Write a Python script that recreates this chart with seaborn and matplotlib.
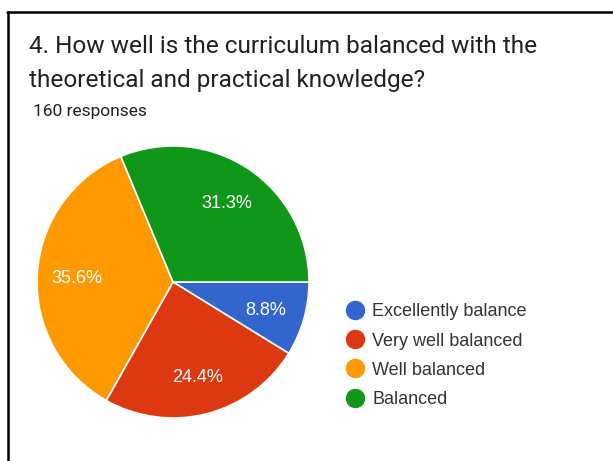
import matplotlib
matplotlib.use("Agg")
import matplotlib.pyplot as plt
from matplotlib.lines import Line2D
import numpy as np
import seaborn as sns

# Survey results (share of 160 responses, in percent)
categories = ["Excellently balance", "Very well balanced", "Well balanced", "Balanced"]
percents = [8.8, 24.4, 35.6, 31.3]
palette = ["#3366cc", "#dc3912", "#ff9900", "#109618"]
title_lines = ["4. How well is the curriculum balanced with the",
               "theoretical and practical knowledge?"]
subtitle = "160 responses"

sns.set_theme(style="white")
plt.rcParams["font.family"] = ["Roboto", "DejaVu Sans"]
chart_font = ["Liberation Sans", "DejaVu Sans"]

W, H = 613, 461
fig = plt.figure(figsize=(W / 100, H / 100), dpi=100)
fig.patch.set_facecolor("white")

# Frame lines along the top and left edges
fig.add_artist(Line2D([7 / W, 1.0], [1 - 12 / H, 1 - 12 / H], color="black",
                      lw=1.8, transform=fig.transFigure))
fig.add_artist(Line2D([8 / W, 8 / W], [1 - 12 / H, 0.0], color="black",
                      lw=1.8, transform=fig.transFigure))

# Title and response count
fig.text(29 / W, 1 - 53 / H, title_lines[0], fontsize=17.6, color="#202124",
         ha="left", va="baseline")
fig.text(29 / W, 1 - 87 / H, title_lines[1], fontsize=17.6, color="#202124",
         ha="left", va="baseline")
fig.text(33 / W, 1 - 116 / H, subtitle, fontsize=12.5, color="#202124",
         ha="left", va="baseline")

# Pie chart
cx, cy, r = 173, 282, 136
ax = fig.add_axes([(cx - r) / W, (H - cy - r) / H, 2 * r / W, 2 * r / H])
wedges, texts = ax.pie(
    percents,
    colors=palette,
    startangle=0,
    counterclock=False,
    radius=1.0,
    wedgeprops=dict(edgecolor="white", linewidth=1.2),
)
# Percentage labels inside each wedge, from the same values
for w, p in zip(wedges, percents):
    ang = np.deg2rad((w.theta1 + w.theta2) / 2)
    ax.text(0.71 * np.cos(ang), 0.71 * np.sin(ang), f"{p:.1f}%",
            ha="center", va="center_baseline", color="white", fontsize=13,
            family=chart_font)
ax.set_xlim(-1, 1)
ax.set_ylim(-1, 1)
ax.set_aspect("equal")
ax.axis("off")

# Legend with round markers
handles = [Line2D([0], [0], marker="o", linestyle="", markersize=13,
                  markerfacecolor=c, markeredgecolor=c) for c in palette]
fig.legend(handles, categories, loc="upper left",
           bbox_to_anchor=(339 / W, 1 - 296 / H), frameon=False,
           prop=dict(family=chart_font, size=13), labelcolor="#333333",
           handletextpad=0.45, handlelength=1.0, labelspacing=0.68,
           borderaxespad=0)

fig.savefig("out.png", dpi=100, facecolor="white")
